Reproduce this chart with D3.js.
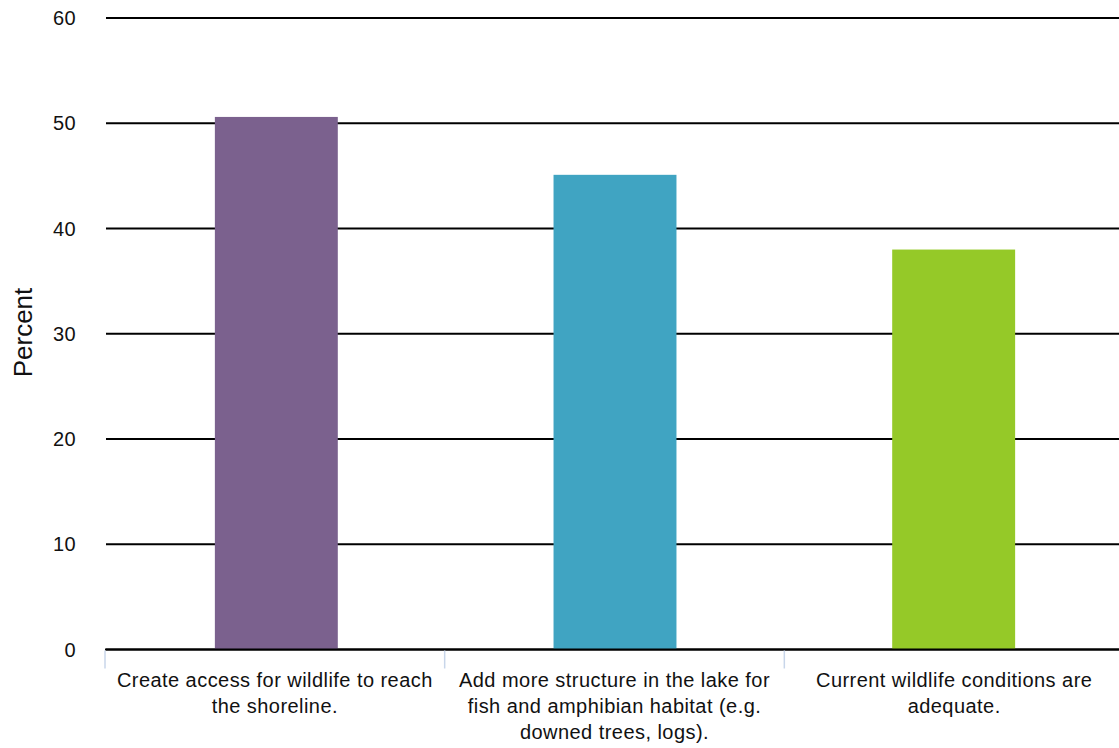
<!DOCTYPE html>
<html><head><meta charset="utf-8">
<script src="https://cdn.jsdelivr.net/npm/d3@7"></script>
<style>body{margin:0;background:#fff}svg{display:block}text{font-family:"Liberation Sans",Arial,Helvetica,sans-serif}</style>
</head><body><svg id="c" width="1119" height="748"></svg>
<script>
const categories = ["Create access for wildlife to reach the shoreline.",
  "Add more structure in the lake for fish and amphibian habitat (e.g. downed trees, logs).",
  "Current wildlife conditions are adequate."];
const values = [50.6, 45.1, 38.0];
const colors = ["#7b618e", "#40a4c2", "#95c928"];
const yTicks = [0, 10, 20, 30, 40, 50, 60];

(function() {
const svg = d3.select("#c");
const mLeft = 105, mRight = 1124, mTop = 18, mBottom = 649.5;
const x = d3.scaleBand().domain(categories).range([107, 1123]).paddingInner(0.637).paddingOuter(0.3185);
const xb = d3.scaleBand().domain(categories).range([mLeft, mRight]);
const y = d3.scaleLinear().domain([0, 60]).range([mBottom, mTop]);

// gridlines
svg.append("g").selectAll("line").data(yTicks).join("line")
  .attr("x1", mLeft + 1).attr("x2", 1119)
  .attr("y1", d => y(d)).attr("y2", d => y(d))
  .attr("stroke", "#000").attr("stroke-width", 2);

// y labels
svg.append("g").selectAll("text").data(yTicks).join("text")
  .attr("x", 76).attr("y", d => y(d)).attr("dy", "0.35em")
  .attr("text-anchor", "end").attr("font-size", 20).attr("letter-spacing", 0.4).attr("fill", "#111")
  .text(d => d);

// bars
svg.append("g").selectAll("rect").data(values).join("rect")
  .attr("x", (d, i) => x(categories[i])).attr("width", x.bandwidth())
  .attr("y", d => y(d)).attr("height", d => y(0) - y(d))
  .attr("fill", (d, i) => colors[i]);

// baseline
svg.append("line").attr("x1", mLeft).attr("x2", 1119).attr("y1", y(0)).attr("y2", y(0))
  .attr("stroke", "#000").attr("stroke-width", 2);

// category ticks
svg.append("g").selectAll("line").data(categories).join("line")
  .attr("x1", d => xb(d)).attr("x2", d => xb(d))
  .attr("y1", y(0) + 1).attr("y2", y(0) + 19)
  .attr("stroke", "#c8d6ea").attr("stroke-width", 1.5);

// category labels with wrapping
const lab = svg.append("g").selectAll("text").data(categories).join("text")
  .attr("x", d => xb(d) + xb.bandwidth() / 2).attr("y", 686.5)
  .attr("text-anchor", "middle").attr("font-size", 20).attr("letter-spacing", 0.45).attr("fill", "#111");
lab.each(function(d) {
  const t = d3.select(this);
  const words = d.split(" ");
  let line = [], lines = [];
  const tmp = t.append("tspan");
  words.forEach(w => {
    line.push(w);
    tmp.text(line.join(" "));
    if (tmp.node().getComputedTextLength() > 330 && line.length > 1) {
      line.pop(); lines.push(line.join(" ")); line = [w];
    }
  });
  lines.push(line.join(" "));
  tmp.remove();
  lines.forEach((l, i) => t.append("tspan").attr("x", t.attr("x")).attr("dy", i ? 26.3 : 0).text(l));
});

// y title
svg.append("text").attr("transform", `translate(32,332.5) rotate(-90)`)
  .attr("text-anchor", "middle").attr("font-size", 26).attr("fill", "#111").text("Percent");
})();
</script></body></html>
